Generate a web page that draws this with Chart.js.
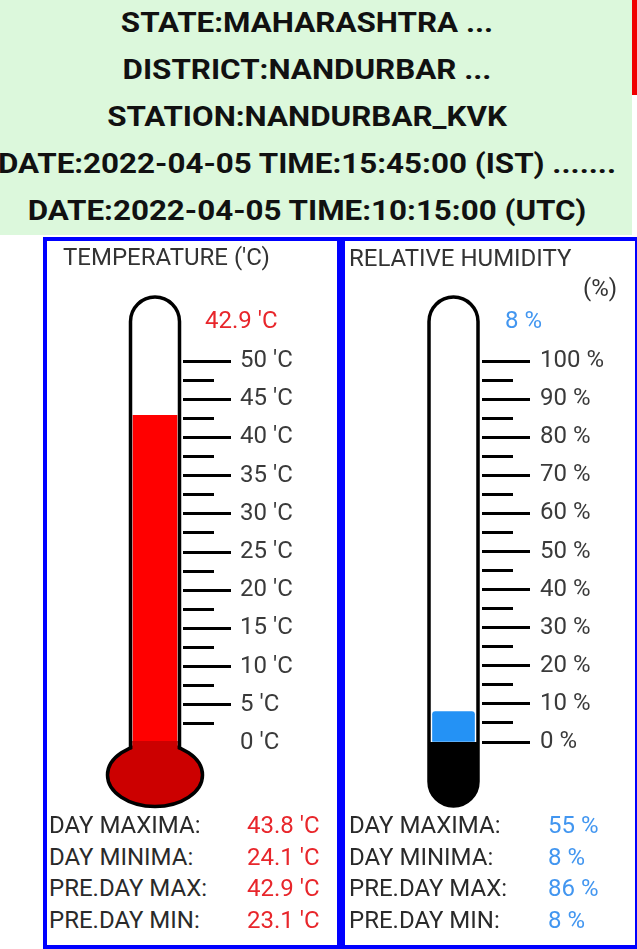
<!DOCTYPE html>
<html>
<head>
<meta charset="utf-8">
<script src="https://cdn.jsdelivr.net/npm/chart.js@4.4.1/dist/chart.umd.min.js"></script>
<style>
  html, body { margin: 0; padding: 0; background: #fff; }
  body { width: 637px; height: 949px; position: relative; overflow: hidden; font-family: Roboto, 'Noto Sans', sans-serif; }
  #header { position: absolute; left: 0; top: 0; width: 632px; height: 235px; background: #dcf8dc; }
  #redmark { position: absolute; left: 632px; top: 0; width: 5px; height: 95px; background: #f00000; }
  .hline { position: absolute; left: 307px; transform: translateX(-50%) scaleX(1.12); white-space: nowrap; font-weight: 700; font-size: 28px; line-height: 28px; color: #111; }
  .box { position: absolute; top: 237px; width: 298px; height: 712px; border: 4px solid #0000ff; box-sizing: border-box; }
  canvas { position: absolute; }
  .txt { position: absolute; white-space: nowrap; font-size: 24px; line-height: 24px; color: #333; z-index: 2; }
  .red { color: #e8262b; }
  .blue { color: #4296f0; }
</style>
</head>
<body>
<div id="header"></div>
<div id="redmark"></div>
<div class="box" style="left:43px"></div>
<div class="box" style="left:341px"></div>
<canvas id="temp" width="290" height="575" style="left:47px; top:241px"></canvas>
<canvas id="hum" width="290" height="575" style="left:345px; top:241px"></canvas>

<script>
// header text
const headerLines = [
    'STATE:MAHARASHTRA ...',
    'DISTRICT:NANDURBAR ...',
    'STATION:NANDURBAR_KVK',
    'DATE:2022-04-05 TIME:15:45:00 (IST) .......',
    'DATE:2022-04-05 TIME:10:15:00 (UTC)'
];

// current readings
const tempNow = [42.9];
const humNow = [8];

// scale ranges [min, max, major step, minor step]
const tempScale = [0, 50, 5, 2.5];
const humScale = [0, 100, 10, 5];

// day stats
const statLabels = ['DAY MAXIMA:', 'DAY MINIMA:', 'PRE.DAY MAX:', 'PRE.DAY MIN:'];
const tempStats = [43.8, 24.1, 42.9, 23.1];
const humStats = [55, 8, 86, 8];

function addText(txt, left, centerY, cls, extra) {
    const d = document.createElement('div');
    d.className = cls;
    d.textContent = txt;
    d.style.left = left + 'px';
    d.style.top = (centerY - 11.7) + 'px';
    if (extra) Object.assign(d.style, extra);
    document.body.appendChild(d);
}

headerLines.forEach((t, i) => {
    const d = document.createElement('div');
    d.className = 'hline';
    d.textContent = t;
    d.style.top = (23 + 47 * i - 13.6) + 'px';
    document.body.appendChild(d);
});

addText("TEMPERATURE ('C)", 63, 257, 'txt');
addText('RELATIVE HUMIDITY', 349, 257.5, 'txt');
addText('(%)', 583, 288, 'txt');
addText(tempNow[0].toFixed(1) + " 'C", 205, 320, 'txt red');
addText(humNow[0] + ' %', 505, 320, 'txt blue');

statLabels.forEach((lab, i) => {
    const cy = 825 + 31.5 * i;
    addText(lab, 49, cy, 'txt', { color: '#2a2a2a' });
    addText(tempStats[i].toFixed(1) + " 'C", 247, cy, 'txt red');
    addText(lab, 349, cy, 'txt', { color: '#2a2a2a' });
    addText(humStats[i] + ' %', 548, cy, 'txt blue');
});

// tube, bulb and sump drawn around the bar
const tubePlugin = {
    id: 'tube',
    afterDatasetsDraw(chart, args, o) {
        const ctx = chart.ctx;
        const y = chart.scales.y;
        const cx = chart.getDatasetMeta(0).data[0].x;
        const top = y.getPixelForValue(y.max) - 64;
        const zero = y.getPixelForValue(y.min);
        const r = 24.5;
        ctx.save();
        ctx.lineWidth = 3.5;
        ctx.strokeStyle = '#000';
        if (o.bulb) {
            ctx.beginPath();
            ctx.ellipse(cx, zero + 32, 47.5, 31.5, 0, 0, Math.PI * 2);
            ctx.fillStyle = o.bulb;
            ctx.fill();
            ctx.stroke();
            ctx.fillRect(cx - r + 1.75, zero - 2, 2 * r - 3.5, 10);
            ctx.beginPath();
            ctx.moveTo(cx - r, zero + 6);
            ctx.lineTo(cx - r, top + r);
            ctx.arc(cx, top + r, r, Math.PI, 0);
            ctx.lineTo(cx + r, zero + 6);
            ctx.stroke();
        } else {
            const bottom = zero + 64;
            ctx.beginPath();
            ctx.moveTo(cx - r, bottom - r);
            ctx.lineTo(cx - r, top + r);
            ctx.arc(cx, top + r, r, Math.PI, 0);
            ctx.lineTo(cx + r, bottom - r);
            ctx.arc(cx, bottom - r, r, 0, Math.PI);
            ctx.closePath();
            ctx.save();
            ctx.clip();
            ctx.fillStyle = o.sump;
            ctx.fillRect(cx - r - 5, zero, 2 * r + 10, bottom - zero + 5);
            ctx.restore();
            ctx.stroke();
        }
        ctx.restore();
    }
};

function Termometro(id, value, range, unit, fill, barW, axisW, padBottom, hideZero, extra) {
    const tickCol = c => (hideZero && c.tick && c.tick.value === 0) ? 'rgba(0,0,0,0)' : '#000';
    return new Chart(document.getElementById(id), {
        type: 'bar',
        data: {
            labels: [''],
            datasets: [{
                data: value,
                backgroundColor: fill,
                barThickness: barW,
                borderRadius: extra.radius || 0,
                borderSkipped: 'bottom',
                yAxisID: 'y'
            }]
        },
        options: {
            responsive: false,
            animation: false,
            layout: { padding: { left: 80, right: 0, top: 120, bottom: padBottom } },
            scales: {
                x: { display: false },
                y: {
                    position: 'right',
                    weight: 1,
                    min: range[0],
                    max: range[1],
                    afterFit: s => { s.width = axisW; },
                    ticks: {
                        stepSize: range[2],
                        padding: extra.labelPad,
                        color: '#3a3a3a',
                        font: { family: 'Roboto', size: 24 },
                        callback: v => v + unit
                    },
                    grid: { drawOnChartArea: false, tickLength: 48, tickWidth: 3, color: tickCol, tickColor: tickCol },
                    border: { display: false }
                },
                yMinor: {
                    position: 'right',
                    weight: 0,
                    min: range[0],
                    max: range[1],
                    afterFit: s => { s.width = 0; },
                    ticks: { display: false, stepSize: range[3] },
                    grid: { drawOnChartArea: false, tickLength: 31, tickWidth: 3, color: tickCol, tickColor: tickCol },
                    border: { display: false }
                }
            },
            plugins: {
                legend: { display: false },
                tooltip: { enabled: false },
                tube: extra.tube
            }
        },
        plugins: [tubePlugin]
    });
}

Termometro('temp', tempNow, tempScale, " 'C", '#ff0000', 44, 154, 73, true,
    { labelPad: 9, tube: { bulb: '#cc0000' } });
Termometro('hum', humNow, humScale, ' %', '#2492f5', 42, 153, 74, false,
    { labelPad: 10, radius: 3, tube: { sump: '#000' } });
</script>
</body>
</html>
